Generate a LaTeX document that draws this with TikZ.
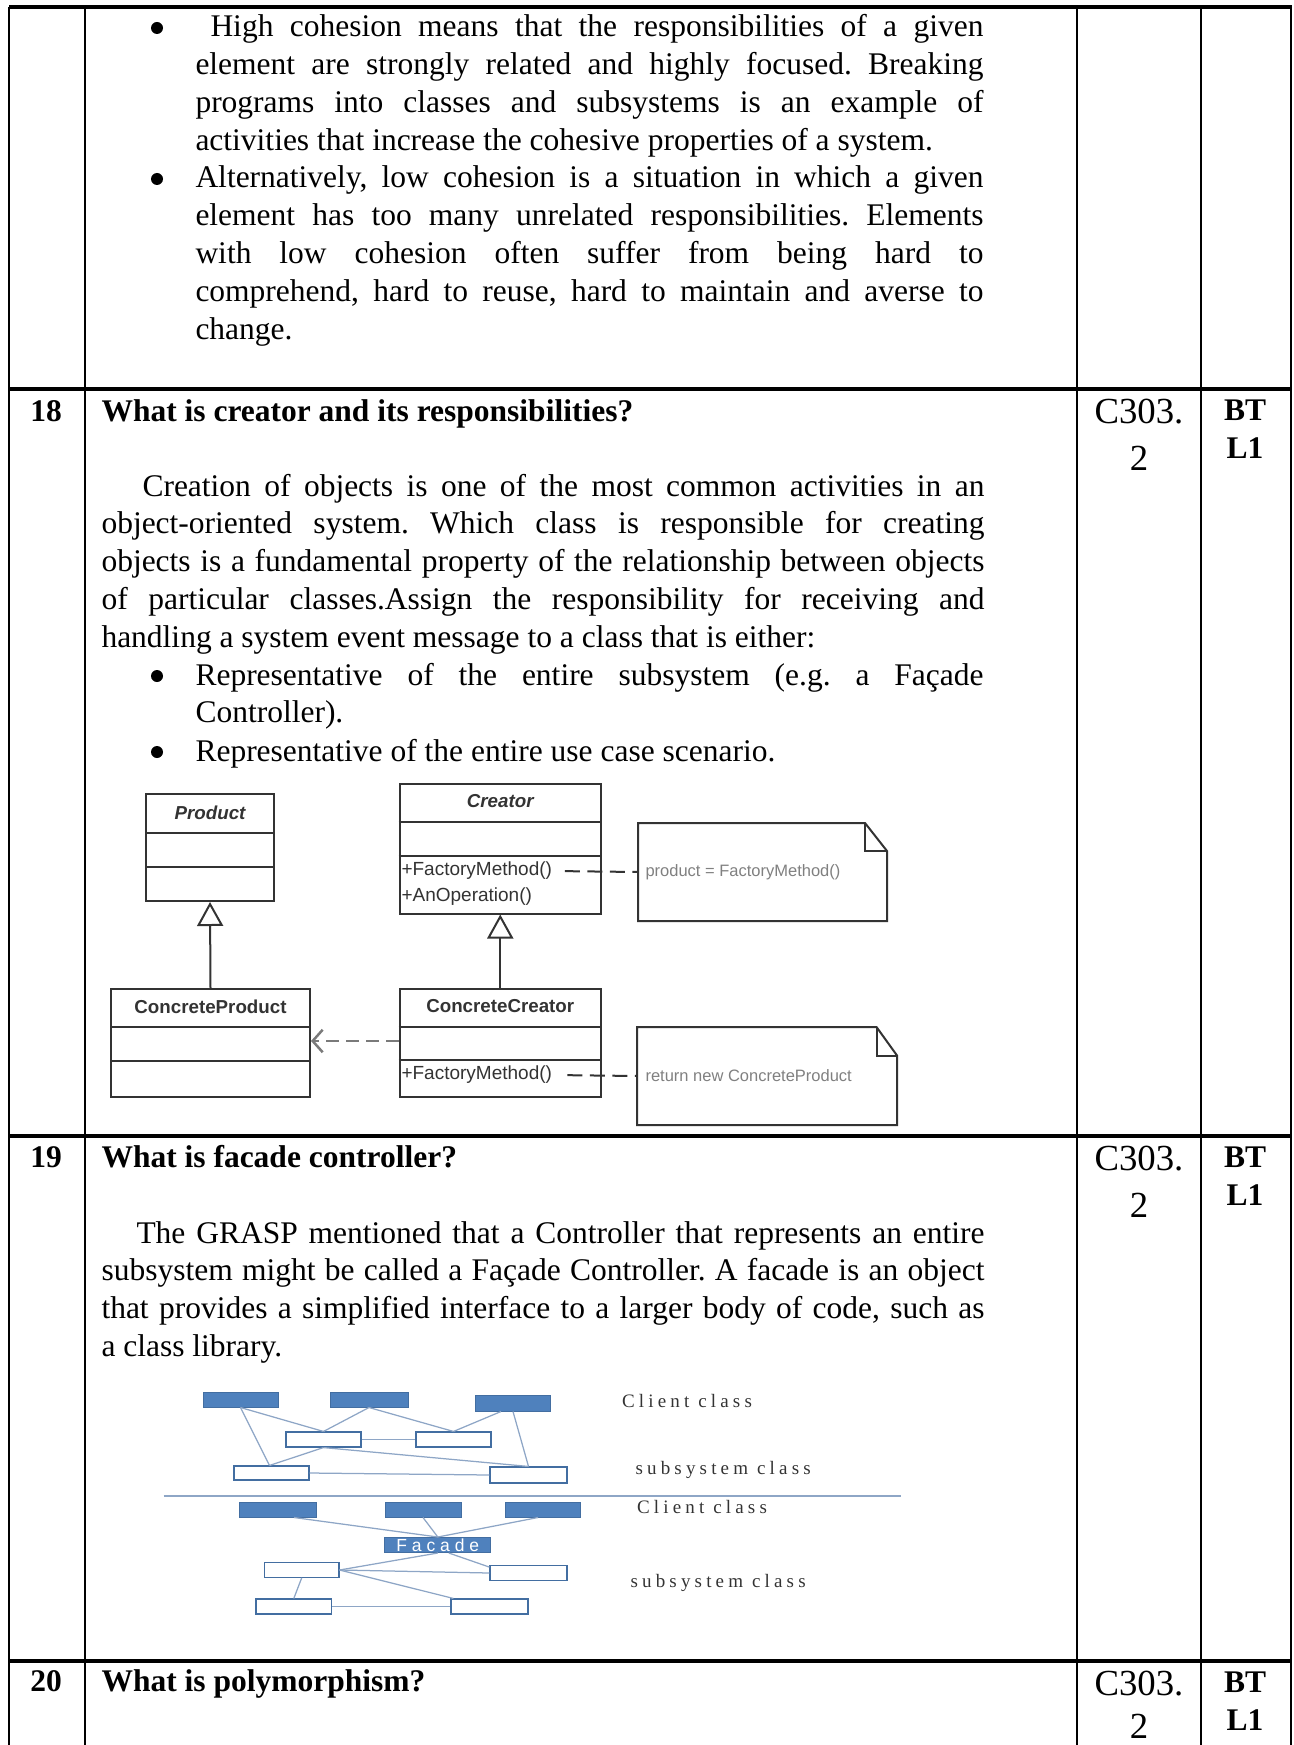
\documentclass[tikz,border=0pt]{standalone}
\usepackage{fontspec}
\setmainfont{Liberation Serif}
\newfontfamily\umlfont{Liberation Sans}
\newfontfamily\clientfont[LetterSpace=22]{Liberation Serif}
\newfontfamily\facadefont[LetterSpace=28]{Liberation Sans}
\usetikzlibrary{arrows.meta,calc,positioning}

\definecolor{clientblue}{HTML}{4F81BD}
\definecolor{linkblue}{HTML}{8EA6C6}
\definecolor{umlgray}{gray}{0.2}
\definecolor{notegray}{gray}{0.5}

\newcommand\pxl{0.4pt}
\newcommand\bodysize{\fontsize{12.6}{15.12}\selectfont\frenchspacing\hyphenpenalty=10000 \exhyphenpenalty=10000 }
\newcommand\codesize{\fontsize{14.7}{18.8}\selectfont}

\tikzset{
  rule/.style={line width=1.1pt},
  hrule/.style={line width=1.3pt},
  body/.style={anchor=base west, font=\bodysize, align=justify},
  head/.style={anchor=base west, font=\bodysize\bfseries},
  numcell/.style={anchor=base, font=\bodysize\bfseries},
  cocell/.style={anchor=base, font=\codesize},
  btcell/.style={anchor=base, font=\bodysize\bfseries},
  dot/.style={circle, fill, minimum size=4.8pt},
  classbox/.style={draw=umlgray, line width=0.8pt, anchor=north west},
  classline/.style={draw=umlgray, line width=0.8pt},
  classname/.style={font=\umlfont\fontsize{7.5}{9}\selectfont\bfseries, text=umlgray},
  method/.style={anchor=west, font=\umlfont\fontsize{7.6}{9}\selectfont, text=umlgray},
  notebox/.style={anchor=north west},
  notetext/.style={anchor=west, font=\umlfont\fontsize{6.6}{8}\selectfont, text=notegray},
  notelink/.style={draw=umlgray, line width=0.8pt, dash pattern=on 6pt off 3pt},
  inherit/.style={draw=umlgray, line width=0.8pt, -{Triangle[open, width=10.4pt, length=9.6pt]}},
  depend/.style={draw=umlgray!65, line width=1pt, dash pattern=on 5pt off 3pt, -{Straight Barb[length=4pt, width=9pt]}},
  client/.style={fill=clientblue, draw=clientblue!85!black, line width=0.4pt},
  subsys/.style={fill=white, draw=clientblue!85!black, line width=0.45pt},
  link/.style={draw=linkblue, line width=0.5pt},
  sidelabel/.style={anchor=west, font=\clientfont\fontsize{7.6}{9}\selectfont, text=black!80}
}

\begin{document}
\begin{tikzpicture}[x=0.4pt, y=-0.4pt, every node/.style={inner sep=0pt}]
  \useasboundingbox (0,0) rectangle (1293,1745);

  % Table rules
  \foreach \ry in {7,389,1136,1661}
    \draw[hrule] (9,\ry) -- (1292,\ry);
  \foreach \rx in {9,85,1077,1201,1291}
    \draw[rule] (\rx,7) -- (\rx,1745);

  % Row 17 (continued)
  \node[dot] (dot1) at (157,28) {};
  \node[body, text width=315.2pt] (highcoh) at (195,37) {\hspace*{6pt}High cohesion means that the responsibilities of a given\linebreak element are strongly related and highly focused. Breaking\linebreak programs into classes and subsystems is an example of\linebreak activities that increase the cohesive properties of a system.};
  \node[dot] (dot2) at (157,179) {};
  \node[body, text width=315.2pt] (lowcoh) at (195,188) {Alternatively, low cohesion is a situation in which a given\linebreak element has too many unrelated responsibilities. Elements\linebreak with low cohesion often suffer from being hard to\linebreak comprehend, hard to reuse, hard to maintain and averse to\linebreak change.};

  % Row 18
  \node[numcell] (num18) at (46,421) {18};
  \node[head] (q18) at (101,421) {What is creator and its responsibilities?};
  \node[cocell] (co18) at (1139,423) {C303.};
  \node[cocell] (co18b) at (1139,470) {2};
  \node[btcell] (bt18) at (1245,420) {BT};
  \node[btcell] (bt18b) at (1245,458) {L1};
  \node[body, text width=353.2pt] (creation) at (101,496) {\hspace*{16.4pt}Creation of objects is one of the most common activities in an\linebreak object-oriented system. Which class is responsible for creating\linebreak objects is a fundamental property of the relationship between objects\linebreak of particular classes.Assign the responsibility for receiving and\linebreak handling a system event message to a class that is either:};
  \node[dot] (dot3) at (157,676) {};
  \node[body, text width=315.2pt] (repsub) at (195,685) {Representative of the entire subsystem (e.g. a Façade\linebreak Controller).};
  \node[dot] (dot4) at (157,752) {};
  \node[body, text width=315.2pt] (repuse) at (195,761) {Representative of the entire use case scenario.};

  % Factory method class diagram
  \node[classbox, minimum width=128*\pxl, minimum height=107*\pxl] (product) at (145,793) {};
  \node[classname, font=\umlfont\fontsize{7.5}{9}\selectfont\bfseries\itshape] (producttitle) at ($(product.north)+(0,20)$) {Product};
  \draw[classline] ($(product.north west)+(0,40)$) -- ($(product.north east)+(0,40)$);
  \draw[classline] ($(product.north west)+(0,74)$) -- ($(product.north east)+(0,74)$);

  \node[classbox, minimum width=201.5*\pxl, minimum height=129.5*\pxl] (creator) at (398.5,783) {};
  \node[classname, font=\umlfont\fontsize{7.5}{9}\selectfont\bfseries\itshape] (creatortitle) at ($(creator.north)+(0,18)$) {Creator};
  \draw[classline] ($(creator.north west)+(0,39)$) -- ($(creator.north east)+(0,39)$);
  \draw[classline] ($(creator.north west)+(0,73)$) -- ($(creator.north east)+(0,73)$);
  \node[method] (factory) at (401,871) {+FactoryMethod()};
  \node[method] (anop) at (401,897) {+AnOperation()};

  \node[classbox, minimum width=199*\pxl, minimum height=108*\pxl] (cproduct) at (110,988) {};
  \node[classname] (cproducttitle) at ($(cproduct.north)+(0,18.5)$) {ConcreteProduct};
  \draw[classline] ($(cproduct.north west)+(0,39)$) -- ($(cproduct.north east)+(0,39)$);
  \draw[classline] ($(cproduct.north west)+(0,72.5)$) -- ($(cproduct.north east)+(0,72.5)$);

  \node[classbox, minimum width=201.5*\pxl, minimum height=108*\pxl] (ccreator) at (398.5,988) {};
  \node[classname] (ccreatortitle) at ($(ccreator.north)+(0,18.5)$) {ConcreteCreator};
  \draw[classline] ($(ccreator.north west)+(0,39)$) -- ($(ccreator.north east)+(0,39)$);
  \draw[classline] ($(ccreator.north west)+(0,72)$) -- ($(ccreator.north east)+(0,72)$);
  \node[method] (cfactory) at (401,1075) {+FactoryMethod()};

  % Notes
  \node[notebox, minimum width=248*\pxl, minimum height=97*\pxl] (note1) at (638,823) {};
  \draw[classline] (note1.south west) -- (note1.north west) -- ($(note1.north east)+(-22,0)$) -- ($(note1.north east)+(0,28)$) -- (note1.south east) -- cycle;
  \draw[classline] ($(note1.north east)+(-22,0)$) -- ($(note1.north east)+(-22,28)$) -- ($(note1.north east)+(0,28)$);
  \node[notetext] (note1text) at ($(note1.west)+(7,0)$) {product = FactoryMethod()};

  \node[notebox, minimum width=259*\pxl, minimum height=97*\pxl] (note2) at (637,1027) {};
  \draw[classline] (note2.south west) -- (note2.north west) -- ($(note2.north east)+(-20.5,0)$) -- ($(note2.north east)+(0,28.5)$) -- (note2.south east) -- cycle;
  \draw[classline] ($(note2.north east)+(-20.5,0)$) -- ($(note2.north east)+(-20.5,28.5)$) -- ($(note2.north east)+(0,28.5)$);
  \node[notetext] (note2text) at ($(note2.west)+(8,0)$) {return new ConcreteProduct};

  % Relations
  \draw[inherit] (cproduct.north) -- (product.south);
  \draw[inherit] (ccreator.north) -- (creator.south);
  \draw[depend] ($(ccreator.north west)+(0,53)$) -- ($(cproduct.north east)+(0,53)$);
  \draw[notelink, shorten <=5pt] (factory.east) -- (note1.west);
  \draw[notelink, shorten <=6pt] (cfactory.east) -- (note2.west);

  % Row 19
  \node[numcell] (num19) at (46,1167) {19};
  \node[head] (q19) at (101,1167) {What is facade controller?};
  \node[cocell] (co19) at (1139,1170) {C303.};
  \node[cocell] (co19b) at (1139,1217) {2};
  \node[btcell] (bt19) at (1245,1167) {BT};
  \node[btcell] (bt19b) at (1245,1205) {L1};
  \node[body, text width=353.2pt] (grasp) at (101,1243) {\hspace*{14pt}The GRASP mentioned that a Controller that represents an entire\linebreak subsystem might be called a Façade Controller. A facade is an object\linebreak that provides a simplified interface to a larger body of code, such as\linebreak a class library.};

  % Facade diagram: without facade
  \node[client, minimum width=75*\pxl, minimum height=15*\pxl] (c1) at (240.5,1399.5) {};
  \node[client, minimum width=78*\pxl, minimum height=15*\pxl] (c2) at (369,1399.5) {};
  \node[client, minimum width=74.5*\pxl, minimum height=16*\pxl] (c3) at (513,1403) {};
  \node[subsys, minimum width=75*\pxl, minimum height=15*\pxl] (s1) at (323.5,1439.5) {};
  \node[subsys, minimum width=75*\pxl, minimum height=15*\pxl] (s2) at (453.5,1439.5) {};
  \node[subsys, minimum width=75*\pxl, minimum height=14*\pxl] (s3) at (271.5,1473) {};
  \node[subsys, minimum width=77*\pxl, minimum height=16*\pxl] (s4) at (528.5,1475) {};
  \draw[link] (c1.south) -- ($(s3.north)+(-2,0)$);
  \draw[link] (c1.south) -- (s1.north);
  \draw[link] (c2.south) -- (s1.north);
  \draw[link] (c2.south) -- (s2.north);
  \draw[link] ($(c3.south)+(-12,0)$) -- (s2.north);
  \draw[link] (c3.south) -- (s4.north);
  \draw[link] (s1.east) -- (s2.west);
  \draw[link] (s1.south) -- ($(s3.north)+(-2,0)$);
  \draw[link] (s1.south) -- (s4.north);
  \draw[link] (s3.east) -- (s4.west);
  \node[sidelabel] (client1) at (621.5,1401) {Client class};
  \node[sidelabel] (subsys1) at (635,1470) {subsystem class};

  \draw[link] (163.5,1496) -- (901,1496);

  % Facade diagram: with facade
  \node[client, minimum width=77*\pxl, minimum height=15*\pxl] (d1) at (278,1509.5) {};
  \node[client, minimum width=76*\pxl, minimum height=15*\pxl] (d2) at (423,1509.5) {};
  \node[client, minimum width=74.6*\pxl, minimum height=15*\pxl] (d3) at (543,1509.5) {};
  \node[client, minimum width=106*\pxl, minimum height=15*\pxl, font=\facadefont\fontsize{7}{7}\selectfont, text=white] (facade) at (437.8,1545) {Facade};
  \node[subsys, minimum width=74.6*\pxl, minimum height=14.6*\pxl] (w1) at (301.7,1570) {};
  \node[subsys, minimum width=77*\pxl, minimum height=15.7*\pxl] (w2) at (528.5,1573) {};
  \node[subsys, minimum width=75.6*\pxl, minimum height=15*\pxl] (w3) at (293.8,1606.5) {};
  \node[subsys, minimum width=77*\pxl, minimum height=15*\pxl] (w4) at (489.5,1606.5) {};
  \draw[link] ($(d1.south)+(16,0)$) -- (facade.north);
  \draw[link] (d2.south) -- (facade.north);
  \draw[link] ($(d3.south)+(-5,0)$) -- (facade.north);
  \draw[link] (facade.south) -- (w1.east);
  \draw[link] ($(facade.south)+(11,0)$) -- ($(w2.north west)+(0,2.5)$);
  \draw[link] (w1.east) -- (w2.west);
  \draw[link] (w1.east) -- ($(w4.north west)+(3,0)$);
  \draw[link] (w1.south) -- (w3.north);
  \draw[link] (w3.east) -- (w4.west);
  \node[sidelabel] (client2) at (636.5,1506.5) {Client class};
  \node[sidelabel] (subsys2) at (630,1582.5) {subsystem class};

  % Row 20
  \node[numcell] (num20) at (46,1691) {20};
  \node[head] (q20) at (101,1691) {What is polymorphism?};
  \node[cocell] (co20) at (1139,1695) {C303.};
  \node[cocell] (co20b) at (1139,1738) {2};
  \node[btcell] (bt20) at (1245,1692) {BT};
  \node[btcell] (bt20b) at (1245,1730) {L1};
\end{tikzpicture}
\end{document}
